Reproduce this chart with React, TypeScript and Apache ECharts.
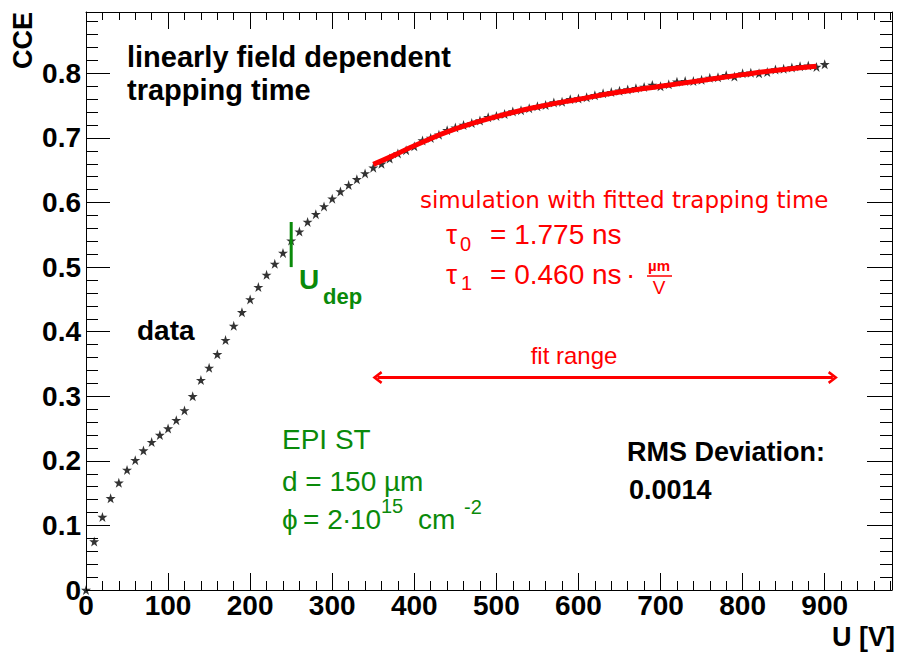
import React, { useEffect, useRef } from "react";
import * as echarts from "echarts";

// ---- data ----
const voltage = [
  0, 10, 20, 30, 40, 50, 60, 70, 80, 90,
  100, 110, 120, 130, 140, 150, 160, 170, 180, 190,
  200, 210, 220, 230, 240, 250, 260, 270, 280, 290,
  300, 310, 320, 330, 340, 350, 360, 370, 380, 390,
  400, 410, 420, 430, 440, 450, 460, 470, 480, 490,
  500, 510, 520, 530, 540, 550, 560, 570, 580, 590,
  600, 610, 620, 630, 640, 650, 660, 670, 680, 690,
  700, 710, 720, 730, 740, 750, 760, 770, 780, 790,
  800, 810, 820, 830, 840, 850, 860, 870, 880, 890,
  900,
];
const cce = [
  0.0, 0.075, 0.113, 0.142, 0.166, 0.186, 0.201, 0.216, 0.229, 0.24,
  0.25, 0.263, 0.278, 0.3, 0.325, 0.344, 0.365, 0.387, 0.409, 0.43,
  0.45, 0.469, 0.488, 0.505, 0.522, 0.541, 0.555, 0.57, 0.582, 0.594,
  0.606, 0.617, 0.627, 0.636, 0.645, 0.654, 0.66, 0.668, 0.676, 0.681,
  0.687, 0.696, 0.7, 0.705, 0.712, 0.716, 0.72, 0.723, 0.727, 0.732,
  0.734, 0.737, 0.741, 0.743, 0.746, 0.749, 0.751, 0.755, 0.756, 0.76,
  0.761, 0.763, 0.766, 0.769, 0.771, 0.773, 0.775, 0.777, 0.779, 0.782,
  0.78, 0.783, 0.787, 0.788, 0.788, 0.79, 0.793, 0.794, 0.797, 0.795,
  0.8, 0.801, 0.8, 0.802, 0.806, 0.807, 0.809, 0.811, 0.812, 0.81,
  0.814,
];
const simVoltage = [350, 375, 400, 450, 500, 550, 600, 650, 700, 750, 800, 850, 890];
const simCce = [0.659, 0.673, 0.688, 0.714, 0.733, 0.748, 0.760, 0.771, 0.780, 0.789, 0.798, 0.806, 0.811];
const udepVoltage = 250;
const udepMarkCce = [0.5, 0.57];
const fitRangeVoltage = [350, 915];
const fitArrowCce = 0.329;
const xMax = 982;
const yMax = 0.895;
const xMajor = 100;
const xMinor = 20;
const yMajor = 0.1;
const yMinor = 0.02;

const FONT = "'Liberation Sans', Arial, Helvetica, sans-serif";
const GREEN = "#0a8a0a";
const RED = "#ff0000";

const STAR =
  "path://M50,0 L61.8,35.3 L98.9,35.3 L68.9,57.1 L80.3,92.7 L50,70.9 L19.7,92.7 L31.1,57.1 L1.1,35.3 L38.2,35.3 Z";
const CHEVRON = "path://M6,0 L12,8.5 L10,10 L6,4.2 L2,10 L0,8.5 Z";

function txt(
  x: number,
  y: number,
  text: string,
  size: number,
  color: string,
  bold = false,
  align = "left",
  family = FONT
) {
  return {
    type: "text",
    x,
    y,
    silent: true,
    z: 100,
    style: {
      text,
      fill: color,
      fontSize: size,
      fontWeight: bold ? "bold" : "normal",
      fontFamily: family,
      align,
      verticalAlign: "middle",
    },
  };
}

export default function App() {
  const ref = useRef<HTMLDivElement>(null);
  useEffect(() => {
    if (!ref.current) return;
    const chart = echarts.init(ref.current, null, { renderer: "svg" });

    const tickLine = { show: true, onZero: false, lineStyle: { color: "#000", width: 1 } };
    const noLine = { show: false, onZero: false };
    const hideLabel = { show: false };
    const xBase = { type: "value", min: 0, max: xMax, splitLine: { show: false } };
    const yBase = { type: "value", min: 0, max: yMax, splitLine: { show: false } };
    const tick = (len: number) => ({
      show: true,
      inside: true,
      length: len,
      lineStyle: { color: "#000", width: 1 },
    });

    const option: any = {
      animation: false,
      backgroundColor: "#ffffff",
      grid: { left: 86, right: 6, top: 12, bottom: 63 },
      xAxis: [
        {
          ...xBase,
          position: "bottom",
          interval: xMajor,
          axisLine: tickLine,
          axisTick: tick(17),
          axisLabel: {
            show: true,
            margin: 1,
            color: "#000",
            fontSize: 28,
            fontWeight: "bold",
            fontFamily: FONT,
            formatter: (v: number) => (Math.abs(v % 100) < 1e-6 && v <= 900 ? String(v) : ""),
          },
        },
        {
          ...xBase,
          position: "bottom",
          interval: xMinor,
          axisLine: noLine,
          axisTick: tick(9),
          axisLabel: hideLabel,
        },
        {
          ...xBase,
          position: "top",
          interval: xMajor,
          axisLine: tickLine,
          axisTick: tick(17),
          axisLabel: hideLabel,
        },
        {
          ...xBase,
          position: "top",
          interval: xMinor,
          axisLine: noLine,
          axisTick: tick(8),
          axisLabel: hideLabel,
        },
      ],
      yAxis: [
        {
          ...yBase,
          position: "left",
          interval: yMajor,
          axisLine: tickLine,
          axisTick: tick(24),
          axisLabel: {
            show: true,
            margin: 5,
            color: "#000",
            fontSize: 28,
            fontWeight: "bold",
            fontFamily: FONT,
            formatter: (v: number) => {
              const t = v * 10;
              if (Math.abs(t - Math.round(t)) > 1e-6) return "";
              return v === 0 ? "0" : v.toFixed(1);
            },
          },
        },
        {
          ...yBase,
          position: "left",
          interval: yMinor,
          axisLine: noLine,
          axisTick: tick(12),
          axisLabel: hideLabel,
        },
        {
          ...yBase,
          position: "right",
          interval: yMajor,
          axisLine: tickLine,
          axisTick: tick(25),
          axisLabel: hideLabel,
        },
        {
          ...yBase,
          position: "right",
          interval: yMinor,
          axisLine: noLine,
          axisTick: tick(12),
          axisLabel: hideLabel,
        },
      ],
      series: [
        {
          name: "data",
          type: "scatter",
          xAxisIndex: 0,
          yAxisIndex: 0,
          symbol: STAR,
          symbolSize: 10,
          itemStyle: { color: "#000" },
          data: voltage.map((u, i) => [u, cce[i]]),
          z: 2,
        },
        {
          name: "simulation",
          type: "line",
          xAxisIndex: 0,
          yAxisIndex: 0,
          smooth: true,
          showSymbol: false,
          symbol: "none",
          lineStyle: { color: RED, width: 5 },
          data: simVoltage.map((u, i) => [u, simCce[i]]),
          z: 3,
        },
        {
          name: "Udep",
          type: "line",
          xAxisIndex: 0,
          yAxisIndex: 0,
          symbol: "none",
          lineStyle: { color: GREEN, width: 3 },
          data: udepMarkCce.map((c) => [udepVoltage, c]),
          z: 4,
        },
        {
          name: "fit range",
          type: "line",
          xAxisIndex: 0,
          yAxisIndex: 0,
          symbol: "none",
          lineStyle: { width: 0, opacity: 0 },
          data: [],
          markLine: {
            silent: true,
            symbol: [CHEVRON, CHEVRON],
            symbolSize: [13, 10],
            label: { show: false },
            lineStyle: { color: RED, width: 3, type: "solid" },
            data: [
              [
                { coord: [fitRangeVoltage[0] + 5, fitArrowCce] },
                { coord: [fitRangeVoltage[1] - 5, fitArrowCce] },
              ],
            ],
          },
        },
      ],
      graphic: [
        {
          type: "text",
          x: 23,
          y: 12,
          rotation: Math.PI / 2,
          silent: true,
          style: {
            text: "CCE",
            fill: "#000",
            fontSize: 27,
            fontWeight: "bold",
            fontFamily: FONT,
            align: "right",
            verticalAlign: "middle",
          },
        },
        txt(127, 57, "linearly field dependent", 29, "#000", true),
        txt(127, 90, "trapping time", 29, "#000", true),
        txt(137, 330, "data", 28, "#000", true),
        txt(299, 279, "U", 28, GREEN, true),
        txt(323, 296, "dep", 22, GREEN, true),
        txt(420, 200, "simulation with fitted trapping time", 23, RED, false, "left", "'DejaVu Sans', sans-serif"),
        txt(446, 234, "τ", 28, RED),
        txt(460, 244, "0", 20, RED),
        txt(490, 234, "= 1.775 ns", 28, RED),
        txt(446, 274, "τ", 28, RED),
        txt(461, 283, "1", 20, RED),
        txt(490, 274, "= 0.460 ns", 28, RED),
        txt(626, 274, "·", 28, RED),
        txt(659, 265, "µm", 15, RED, true, "center"),
        {
          type: "line",
          silent: true,
          shape: { x1: 647, y1: 276, x2: 672, y2: 276 },
          style: { stroke: RED, lineWidth: 1.5 },
        },
        txt(659, 287, "V", 19, RED, false, "center"),
        txt(574, 355, "fit range", 24, RED, false, "center"),
        txt(282, 439, "EPI ST", 28, GREEN),
        txt(282, 481, "d = 150 µm", 28, GREEN),
        txt(282, 519, "ϕ", 28, GREEN),
        txt(303, 519, "= 2", 28, GREEN),
        txt(342, 519, "·", 28, GREEN),
        txt(350, 519, "10", 28, GREEN),
        txt(381, 506, "15", 20, GREEN),
        txt(418, 519, "cm", 28, GREEN),
        txt(464, 507, "-2", 20, GREEN),
        txt(627, 452, "RMS Deviation:", 27, "#000", true),
        txt(629, 490, "0.0014", 27, "#000", true),
        txt(895, 637, "U [V]", 27, "#000", true, "right"),
      ],
    };

    chart.setOption(option);
    return () => chart.dispose();
  }, []);

  return (
    <div
      ref={ref}
      style={{ position: "fixed", left: 0, top: 0, width: 898, height: 653, background: "#fff" }}
    />
  );
}
